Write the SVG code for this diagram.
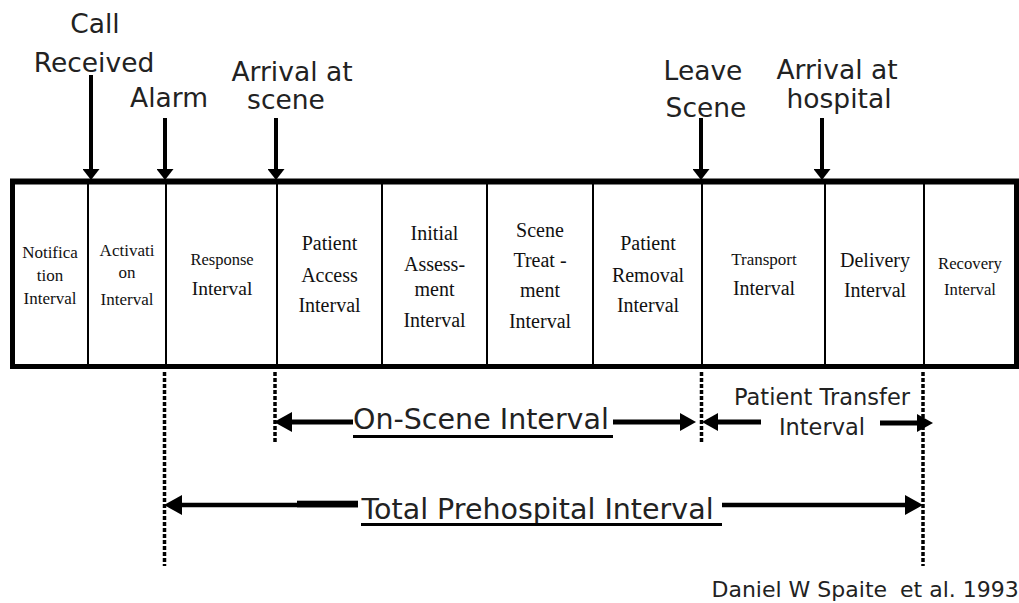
<svg xmlns="http://www.w3.org/2000/svg" width="1019" height="603" viewBox="0 0 1019 603">
  <style>
    .lbl { font-family: "DejaVu Sans", Verdana, sans-serif; fill: #222; }
    .ev { font-size: 26.5px; text-anchor: middle; }
    .cell { font-family: "Liberation Serif", "Times New Roman", serif; fill: #111; text-anchor: middle; }
    .frame { fill: #fff; stroke: #000; stroke-width: 5; }
    .div { stroke: #000; stroke-width: 2; }
    .stem { stroke: #000; stroke-width: 4; fill: none; }
    .bar { stroke: #000; stroke-width: 5; fill: none; }
    .bar-thin { stroke: #000; stroke-width: 4.5; fill: none; }
    .dots { stroke: #000; stroke-width: 3.5; stroke-dasharray: 4 2; fill: none; }
    .uline { stroke: #000; stroke-width: 3; }
  </style>
  <defs>
    <!-- downward event arrowhead -->
    <marker id="evTip" viewBox="0 -8.5 11 17" refX="5" refY="0" markerWidth="11" markerHeight="17" markerUnits="userSpaceOnUse" orient="auto">
      <path d="M0,-8.5 L11,0 L0,8.5 Z" fill="#000"/>
    </marker>
    <!-- interval dimension arrowheads -->
    <marker id="dimTip" viewBox="0 -10 18 20" refX="12" refY="0" markerWidth="18" markerHeight="20" markerUnits="userSpaceOnUse" orient="auto-start-reverse">
      <path d="M0,-10 L18,0 L0,10 Z" fill="#000"/>
    </marker>
    <marker id="dimTipSmall" viewBox="0 -9 16 18" refX="10" refY="0" markerWidth="16" markerHeight="18" markerUnits="userSpaceOnUse" orient="auto-start-reverse">
      <path d="M0,-9 L16,0 L0,9 Z" fill="#000"/>
    </marker>
  </defs>

  <rect width="1019" height="603" fill="#fff"/>

  <!-- timeline frame and cell dividers -->
  <g id="timeline">
    <rect class="frame" x="12.5" y="181.5" width="1004" height="185"/>
    <line x1="10" y1="181.5" x2="1019" y2="181.5" stroke="#000" stroke-width="6"/>
    <line class="div" x1="88" y1="184" x2="88" y2="365"/>
    <line class="div" x1="166" y1="184" x2="166" y2="365"/>
    <line class="div" x1="277" y1="184" x2="277" y2="365"/>
    <line class="div" x1="382" y1="184" x2="382" y2="365"/>
    <line class="div" x1="487" y1="184" x2="487" y2="365"/>
    <line class="div" x1="593" y1="184" x2="593" y2="365"/>
    <line class="div" x1="702" y1="184" x2="702" y2="365"/>
    <line class="div" x1="825" y1="184" x2="825" y2="365"/>
    <line class="div" x1="924" y1="184" x2="924" y2="365"/>
  </g>

  <!-- interval cells -->
  <g id="notification-interval" class="cell" font-size="17">
    <text x="50" y="258">Notifica</text>
    <text x="50" y="281">tion</text>
    <text x="50" y="304">Interval</text>
  </g>
  <g id="activation-interval" class="cell" font-size="17">
    <text x="127" y="256">Activati</text>
    <text x="127" y="278">on</text>
    <text x="127" y="305">Interval</text>
  </g>
  <g id="response-interval" class="cell">
    <text x="222" y="265" font-size="16.5">Response</text>
    <text x="222" y="295" font-size="19.5">Interval</text>
  </g>
  <g id="patient-access-interval" class="cell" font-size="20">
    <text x="329.5" y="250">Patient</text>
    <text x="329.5" y="282">Access</text>
    <text x="329.5" y="312">Interval</text>
  </g>
  <g id="initial-assessment-interval" class="cell" font-size="20">
    <text x="434.5" y="240">Initial</text>
    <text x="434.5" y="271">Assess-</text>
    <text x="434.5" y="296">ment</text>
    <text x="434.5" y="327">Interval</text>
  </g>
  <g id="scene-treatment-interval" class="cell" font-size="20">
    <text x="540" y="237">Scene</text>
    <text x="540" y="267">Treat -</text>
    <text x="540" y="297">ment</text>
    <text x="540" y="328">Interval</text>
  </g>
  <g id="patient-removal-interval" class="cell" font-size="20">
    <text x="648" y="250">Patient</text>
    <text x="648" y="282">Removal</text>
    <text x="648" y="312">Interval</text>
  </g>
  <g id="transport-interval" class="cell">
    <text x="764" y="265" font-size="17">Transport</text>
    <text x="764" y="295" font-size="20">Interval</text>
  </g>
  <g id="delivery-interval" class="cell" font-size="20">
    <text x="875" y="267">Delivery</text>
    <text x="875" y="297">Interval</text>
  </g>
  <g id="recovery-interval" class="cell" font-size="16.7">
    <text x="970" y="269">Recovery</text>
    <text x="970" y="295">Interval</text>
  </g>

  <!-- event labels -->
  <g id="call-received" class="lbl ev">
    <text x="95" y="33">Call</text>
    <text x="94" y="72">Received</text>
  </g>
  <g id="alarm" class="lbl ev">
    <text x="169" y="107">Alarm</text>
  </g>
  <g id="arrival-at-scene" class="lbl ev">
    <text x="292" y="81">Arrival at</text>
    <text x="286" y="109">scene</text>
  </g>
  <g id="leave-scene" class="lbl ev">
    <text x="703" y="80">Leave</text>
    <text x="706" y="117">Scene</text>
  </g>
  <g id="arrival-at-hospital" class="lbl ev">
    <text x="837" y="79">Arrival at</text>
    <text x="839" y="108">hospital</text>
  </g>

  <!-- interval span labels -->
  <g id="on-scene-interval" class="lbl">
    <text x="353" y="429" font-size="28.5">On-Scene Interval</text>
    <line class="uline" x1="353" y1="436.5" x2="613" y2="436.5"/>
  </g>
  <g id="patient-transfer-interval" class="lbl" text-anchor="middle" font-size="22.5">
    <text x="822" y="405">Patient Transfer</text>
    <text x="822" y="435">Interval</text>
  </g>
  <g id="total-prehospital-interval" class="lbl">
    <text x="361.5" y="519" font-size="28.5">Total Prehospital Interval</text>
    <line class="uline" x1="361" y1="524.5" x2="722" y2="524.5"/>
  </g>
  <g id="citation" class="lbl" font-size="22">
    <text x="711.5" y="597">Daniel W Spaite<tspan x="900">et al. 1993</tspan></text>
  </g>

  <!-- connectors -->
  <g id="connectors">
    <!-- event arrows into the timeline -->
    <line class="stem" x1="91" y1="75" x2="91" y2="174" marker-end="url(#evTip)"/>
    <line class="stem" x1="165" y1="118" x2="165" y2="174" stroke-width="6" marker-end="url(#evTip)"/>
    <line class="stem" x1="276" y1="118" x2="276" y2="174" marker-end="url(#evTip)"/>
    <line class="stem" x1="701" y1="118" x2="701" y2="174" marker-end="url(#evTip)"/>
    <line class="stem" x1="822" y1="118" x2="822" y2="174" marker-end="url(#evTip)"/>

    <!-- dotted boundary lines -->
    <line class="dots" x1="164.5" y1="372" x2="164.5" y2="566"/>
    <line class="dots" x1="275" y1="372" x2="275" y2="444"/>
    <line class="dots" x1="701.5" y1="372" x2="701.5" y2="444"/>
    <line class="dots" x1="923" y1="372" x2="923" y2="566"/>

    <!-- on-scene interval -->
    <line class="bar" x1="353" y1="422" x2="280" y2="422" marker-end="url(#dimTip)"/>
    <line class="bar" x1="613" y1="422" x2="690" y2="422" marker-end="url(#dimTipSmall)"/>

    <!-- patient transfer interval -->
    <line class="bar" x1="761" y1="422" x2="708" y2="422" marker-end="url(#dimTipSmall)"/>
    <line class="bar" x1="880" y1="423" x2="927" y2="423" marker-end="url(#dimTipSmall)"/>

    <!-- total prehospital interval -->
    <line class="bar-thin" x1="358" y1="505" x2="170" y2="505" marker-end="url(#dimTip)"/>
    <rect x="297" y="500.7" width="61" height="6.6" fill="#000"/>
    <line class="bar-thin" x1="722" y1="505" x2="917" y2="505" marker-end="url(#dimTip)"/>
  </g>
</svg>
